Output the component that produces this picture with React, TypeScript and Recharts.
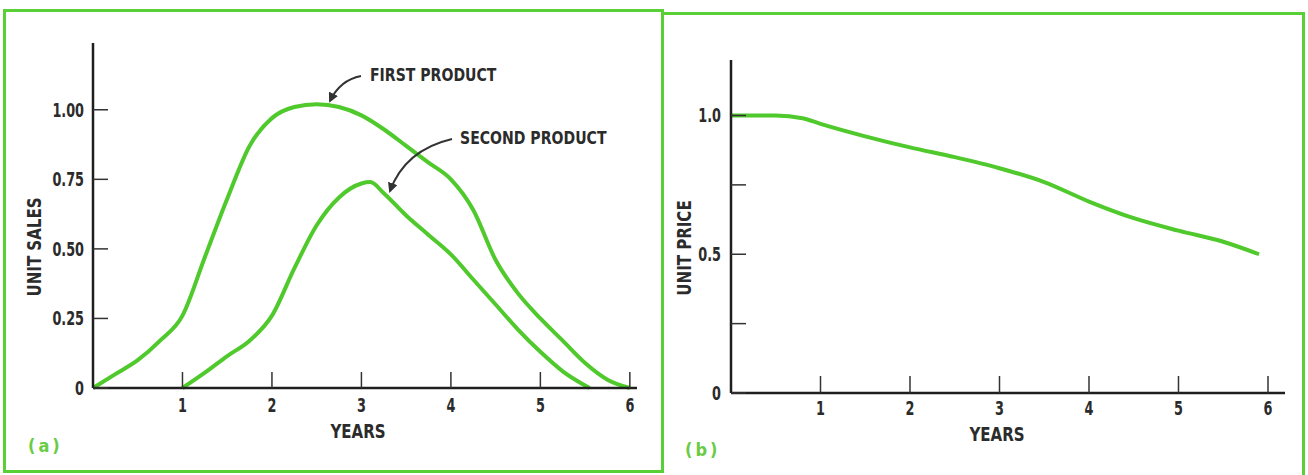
import { LineChart, Line, XAxis, YAxis } from 'recharts';

const FONT = "'Liberation Sans Narrow', 'DejaVu Sans Condensed', 'Liberation Sans', sans-serif";
const INK = '#2b2b2b';
const GREEN = '#4fc92c';
const FRAME = '#58d036';

// (a) unit sales
const firstYears = [0, 0.25, 0.5, 0.75, 1, 1.25, 1.5, 1.75, 2, 2.25, 2.5, 2.75, 3, 3.25, 3.5, 3.75, 4, 4.25, 4.5, 4.75, 5, 5.25, 5.5, 5.75, 6];
const firstProduct = [0, 0.05, 0.1, 0.17, 0.26, 0.47, 0.68, 0.87, 0.97, 1.01, 1.02, 1.01, 0.98, 0.93, 0.87, 0.81, 0.75, 0.64, 0.46, 0.34, 0.25, 0.17, 0.09, 0.03, 0];
const secondYears = [1, 1.25, 1.5, 1.75, 2, 2.25, 2.5, 2.75, 3, 3.1, 3.25, 3.5, 3.75, 4, 4.25, 4.5, 4.75, 5, 5.25, 5.55];
const secondProduct = [0, 0.055, 0.115, 0.17, 0.26, 0.43, 0.585, 0.685, 0.735, 0.74, 0.7, 0.62, 0.55, 0.48, 0.39, 0.3, 0.21, 0.13, 0.06, 0];
const salesTicks = [0, 0.25, 0.5, 0.75, 1];
const salesTickLabels = ['0', '0.25', '0.50', '0.75', '1.00'];

// (b) unit price
const priceYears = [0, 0.5, 0.8, 1, 1.5, 2, 2.5, 3, 3.5, 4, 4.5, 5, 5.5, 5.9];
const unitPrice = [1.0, 1.0, 0.99, 0.97, 0.925, 0.885, 0.85, 0.81, 0.76, 0.69, 0.63, 0.585, 0.545, 0.5];
const priceTicks = [0, 0.25, 0.5, 0.75, 1];
const priceTickLabels = ['0', '', '0.5', '', '1.0'];

const yearTicks = [1, 2, 3, 4, 5, 6];

const toRows = (xs: number[], ys: number[]) => xs.map((year, i) => ({ year, value: ys[i] }));

const axisLine = { stroke: '#1f1f1f', strokeWidth: 2.5 };
const tickLine = { stroke: '#333', strokeWidth: 1.5 };

// condensed look: squeeze the text horizontally
const NarrowTick = (props: any) => {
  const { x, y, payload, textAnchor, labels, values, vertical } = props;
  const text = labels ? labels[values.indexOf(payload.value)] ?? '' : String(payload.value);
  return (
    <text
      transform={`translate(${x},${y}) scale(0.75,1)`}
      textAnchor={textAnchor}
      dominantBaseline={vertical ? 'central' : 'hanging'}
      fill={INK}
      fontSize={19}
      fontWeight={700}
      fontFamily={FONT}
    >
      {text}
    </text>
  );
};

const title = (text: string, x: number, y: number, rotate = false) => () => (
  <text
    transform={`translate(${x},${y})${rotate ? ' rotate(-90)' : ''} scale(0.88,1)`}
    textAnchor='middle'
    dominantBaseline='central'
    fill={INK}
    fontSize={19}
    fontWeight={700}
    fontFamily={FONT}
  >
    {text}
  </text>
);

const SalesChart = () => (
  <LineChart width={660} height={475} margin={{ top: 43, right: 23, bottom: 57, left: 33 }}>
    <XAxis
      dataKey='year'
      type='number'
      domain={[0, 6.08]}
      ticks={yearTicks}
      height={30}
      tickSize={-16}
      tickMargin={26}
      tick={<NarrowTick />}
      axisLine={axisLine}
      tickLine={tickLine}
      label={{ content: title('YEARS', 358, 431) }}
    />
    <YAxis
      type='number'
      domain={[0, 1.24]}
      ticks={salesTicks}
      width={60}
      tickSize={-15}
      tickMargin={24}
      tick={<NarrowTick vertical labels={salesTickLabels} values={salesTicks} />}
      axisLine={axisLine}
      tickLine={tickLine}
      label={{ content: title('UNIT SALES', 34, 247, true) }}
    />
    <Line data={toRows(firstYears, firstProduct)} dataKey='value' type='monotone' stroke={GREEN} strokeWidth={4} dot={false} isAnimationActive={false} />
    <Line data={toRows(secondYears, secondProduct)} dataKey='value' type='monotone' stroke={GREEN} strokeWidth={4} dot={false} isAnimationActive={false} />
  </LineChart>
);

const PriceChart = () => (
  <LineChart width={648} height={475} margin={{ top: 60, right: 23, bottom: 52, left: 11 }}>
    <XAxis
      dataKey='year'
      type='number'
      domain={[0, 6.19]}
      ticks={yearTicks}
      height={30}
      tickSize={-17}
      tickMargin={25}
      tick={<NarrowTick />}
      axisLine={axisLine}
      tickLine={tickLine}
      label={{ content: title('YEARS', 337, 434) }}
    />
    <YAxis
      type='number'
      domain={[0, 1.2]}
      ticks={priceTicks}
      width={60}
      tickSize={-15}
      tickMargin={25}
      tick={<NarrowTick vertical labels={priceTickLabels} values={priceTicks} />}
      axisLine={axisLine}
      tickLine={tickLine}
      label={{ content: title('UNIT PRICE', 24, 248, true) }}
    />
    <Line data={toRows(priceYears, unitPrice)} dataKey='value' type='monotone' stroke={GREEN} strokeWidth={4} dot={false} isAnimationActive={false} />
  </LineChart>
);

export default function App() {
  return (
    <div style={{ position: 'absolute', left: 0, top: 0, width: 1308, height: 475, overflow: 'hidden', background: '#fff' }}>
      <div style={{ position: 'absolute', left: 3, top: 9, width: 655, height: 458, border: `3px solid ${FRAME}` }} />
      <div style={{ position: 'absolute', left: 664, top: 12, width: 638, height: 480, borderTop: `3px solid ${FRAME}`, borderRight: `3px solid ${FRAME}` }} />
      <div style={{ position: 'absolute', left: 0, top: 0 }}>
        <SalesChart />
      </div>
      <div style={{ position: 'absolute', left: 660, top: 0 }}>
        <PriceChart />
      </div>
      <svg width={1308} height={475} style={{ position: 'absolute', left: 0, top: 0, pointerEvents: 'none' }}>
        <defs>
          <marker id='head' viewBox='0 0 10 10' refX='8' refY='5' markerWidth='5' markerHeight='5' orient='auto'>
            <path d='M0,0 L10,5 L0,10 z' fill='#333' />
          </marker>
        </defs>
        <path d='M361,76 Q340,80 330,101' fill='none' stroke='#333' strokeWidth={2} markerEnd='url(#head)' />
        <path d='M452,139 Q405,150 390,191' fill='none' stroke='#333' strokeWidth={2} markerEnd='url(#head)' />
        <g fill={INK} fontSize={17} fontWeight={700} fontFamily={FONT}>
          <text transform='translate(370,81) scale(0.92,1)'>FIRST PRODUCT</text>
          <text transform='translate(460,144) scale(0.92,1)'>SECOND PRODUCT</text>
        </g>
        <g fill='#6acb45' fontSize={18} fontWeight={700} fontFamily={FONT} letterSpacing={3}>
          <text x={28} y={452}>(a)</text>
          <text x={685} y={456}>(b)</text>
        </g>
      </svg>
    </div>
  );
}
